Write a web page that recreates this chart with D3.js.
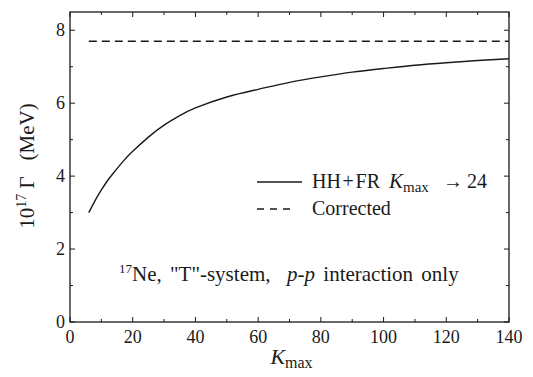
<!DOCTYPE html>
<html>
<head>
<meta charset="utf-8">
<script src="https://cdn.jsdelivr.net/npm/d3@7"></script>
<style>
  html, body { margin: 0; padding: 0; background: #fff; }
  svg { display: block; }
</style>
</head>
<body>
<svg id="chart" width="533" height="377"></svg>
<script>
// Width Γ versus the hyperspherical cutoff K_max
const kValues = [6, 8, 10, 12, 14, 17, 20, 25, 30, 35, 40, 50, 60, 70, 80, 90, 100, 110, 120, 130, 140];
const gammaHHFR = [3.0, 3.33, 3.62, 3.88, 4.1, 4.41, 4.68, 5.07, 5.4, 5.66, 5.87, 6.17, 6.38, 6.57, 6.72, 6.85, 6.95, 7.04, 7.11, 7.17, 7.22];
const correctedK = [6, 140];
const gammaCorrected = [7.7, 7.7];
const xTicks = [0, 20, 40, 60, 80, 100, 120, 140];
const yTicks = [0, 2, 4, 6, 8];

const FONT = '"Liberation Serif"';
const margin = { left: 70, right: 24, top: 12, bottom: 55 };
const W = 533, H = 377;
const svg = d3.select("#chart");

const x = d3.scaleLinear().domain([0, 140]).range([margin.left, W - margin.right]);
const y = d3.scaleLinear().domain([0, 8.5]).range([H - margin.bottom, margin.top]);

const x0 = x(0), x1 = x(140), y0 = y(0), y1 = y(8.5);
const ink = "#1a1a1a";

// minor tick positions between the labelled ones
const xMinor = d3.range(10, 140, 20);
const yMinor = d3.range(1, 8.5, 2);

const tickG = svg.append("g").attr("stroke", ink).attr("stroke-width", 1);
// bottom & top ticks, pointing inward
[[xTicks, 5], [xMinor, 3]].forEach(([vals, len]) => {
  vals.forEach(v => {
    tickG.append("line").attr("x1", x(v)).attr("x2", x(v)).attr("y1", y0).attr("y2", y0 - len);
    tickG.append("line").attr("x1", x(v)).attr("x2", x(v)).attr("y1", y1).attr("y2", y1 + len);
  });
});
// left & right ticks
[[yTicks, 5], [yMinor, 3]].forEach(([vals, len]) => {
  vals.forEach(v => {
    tickG.append("line").attr("y1", y(v)).attr("y2", y(v)).attr("x1", x0).attr("x2", x0 + len);
    tickG.append("line").attr("y1", y(v)).attr("y2", y(v)).attr("x1", x1).attr("x2", x1 - len);
  });
});

// frame
svg.append("rect")
  .attr("x", x0).attr("y", y1).attr("width", x1 - x0).attr("height", y0 - y1)
  .attr("fill", "none").attr("stroke", ink).attr("stroke-width", 1.3);

// tick labels
svg.append("g").selectAll("text").data(xTicks).join("text")
  .style("font-family", FONT)
  .attr("x", d => x(d)).attr("y", y0 + 21)
  .attr("text-anchor", "middle").attr("font-size", 18).attr("fill", ink)
  .text(d => d);
svg.append("g").selectAll("text").data(yTicks).join("text")
  .style("font-family", FONT)
  .attr("x", x0 - 5).attr("y", d => y(d) + 6)
  .attr("text-anchor", "end").attr("font-size", 18).attr("fill", ink)
  .text(d => d);

// axis titles
const xt = svg.append("text").style("font-family", FONT).attr("x", x(70) + 2).attr("y", H - 13)
  .attr("text-anchor", "middle").attr("fill", ink);
xt.append("tspan").attr("font-size", 22).attr("font-style", "italic").text("K");
xt.append("tspan").attr("font-size", 16).attr("dy", 4).text("max");

const yt = svg.append("text").style("font-family", FONT)
  .attr("transform", `translate(34,${166}) rotate(-90)`)
  .attr("text-anchor", "middle").attr("fill", ink).attr("font-size", 21);
yt.append("tspan").text("10");
yt.append("tspan").attr("font-size", 14).attr("dy", -8).text("17");
yt.append("tspan").attr("dy", 8).text(" Γ");
yt.append("tspan").attr("dx", 16).text("(MeV)");

// curves
const line = d3.line().x(d => x(d[0])).y(d => y(d[1])).curve(d3.curveNatural);
svg.append("path")
  .datum(kValues.map((k, i) => [k, gammaHHFR[i]]))
  .attr("d", line).attr("fill", "none").attr("stroke", ink).attr("stroke-width", 1.4);
svg.append("path")
  .datum(correctedK.map((k, i) => [k, gammaCorrected[i]]))
  .attr("d", line).attr("fill", "none").attr("stroke", ink).attr("stroke-width", 1.4)
  .attr("stroke-dasharray", "8,5");

// legend
const lg = svg.append("g").attr("fill", ink);
lg.append("line").attr("x1", 257).attr("x2", 302).attr("y1", 182).attr("y2", 182)
  .attr("stroke", ink).attr("stroke-width", 1.3);
lg.append("line").attr("x1", 257).attr("x2", 295).attr("y1", 209).attr("y2", 209)
  .attr("stroke", ink).attr("stroke-width", 1.3).attr("stroke-dasharray", "7,6");
const l1 = lg.append("text").style("font-family", FONT).attr("y", 188).attr("font-size", 20);
l1.append("tspan").attr("x", 312).text("HH\u200A+\u200AFR");
l1.append("tspan").attr("x", 389).attr("font-style", "italic").attr("font-size", 21).text("K");
l1.append("tspan").attr("font-size", 15).attr("dy", 4).text("max");
l1.append("tspan").attr("x", 443).attr("dy", -4).text("\u2192");
l1.append("tspan").attr("x", 467).text("24");
lg.append("text").style("font-family", FONT).attr("x", 312).attr("y", 215)
  .attr("font-size", 20).text("Corrected");

// system annotation
const ann = svg.append("text").style("font-family", FONT).attr("x", 119).attr("y", 281)
  .attr("font-size", 21).attr("word-spacing", 3).attr("fill", ink);
ann.append("tspan").attr("font-size", 13).attr("dy", -8).text("17");
ann.append("tspan").attr("dy", 8).text("Ne, \"T\"-system,\u00A0 ");
ann.append("tspan").attr("font-style", "italic").text("p-p");
ann.append("tspan").text(" interaction only");
</script>
</body>
</html>
